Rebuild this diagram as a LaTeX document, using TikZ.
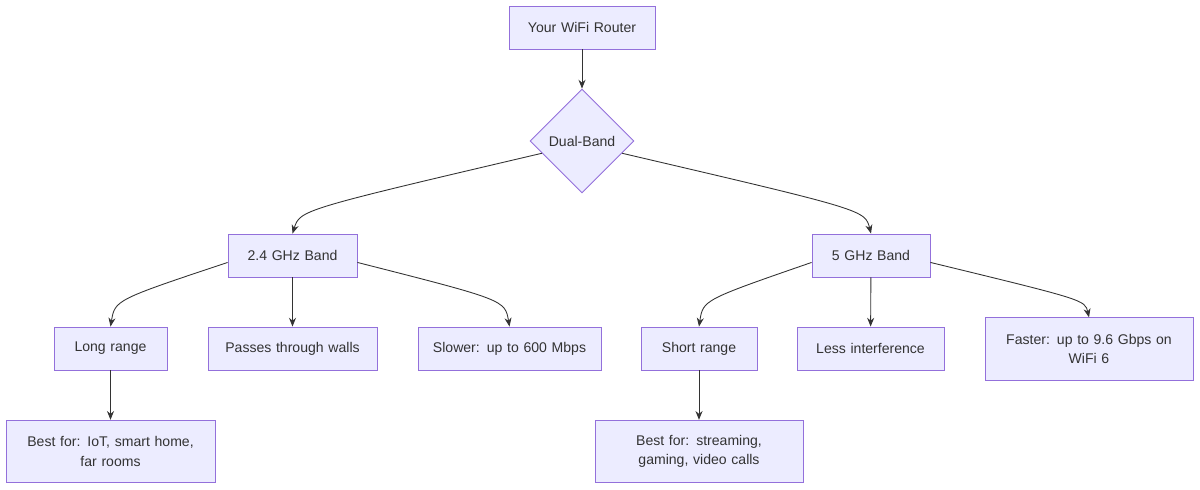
\documentclass[tikz,border=0pt]{standalone}
\usepackage{fontspec}
\setmainfont{Liberation Sans}
\usetikzlibrary{arrows.meta, positioning, shapes.geometric}
\definecolor{mmfill}{HTML}{ECECFF}
\definecolor{mmdraw}{HTML}{9370DB}
\definecolor{mmtext}{HTML}{333333}

\begin{document}
\begin{tikzpicture}[
  x=0.02cm, y=-0.02cm,
  every node/.style={font=\fontsize{8}{11}\selectfont, text=mmtext},
  box/.style={rectangle, draw=mmdraw, fill=mmfill, line width=0.5pt, inner sep=0pt, minimum height=0.86cm, text width=#1, align=center},
  tallbox/.style={box=#1, minimum height=1.25cm},
  choice/.style={diamond, draw=mmdraw, fill=mmfill, line width=0.5pt, inner sep=0pt, minimum width=2.08cm, minimum height=2.08cm},
  link/.style={-{Stealth[length=5pt, width=4pt]}, draw=mmtext, line width=0.5pt},
]
\useasboundingbox (0,0) rectangle (1200,490);

% Nodes
\node[box=2.92cm] (router) at (582,27.5) {Your WiFi Router};
\node[choice] (dual) at (582,141) {Dual-Band};
\node[box=2.58cm] (band24) at (292.5,255.5) {2.4 GHz Band};
\node[box=2.36cm] (band5) at (871,255.5) {5 GHz Band};

\node[box=2.26cm] (long) at (110.5,348.5) {Long range};
\node[box=3.38cm] (walls) at (292.5,348.5) {Passes through walls};
\node[box=3.66cm] (slow) at (509.5,348.5) {Slower: up to 600 Mbps};
\node[box=2.32cm] (short) at (699,348.5) {Short range};
\node[box=2.94cm] (less) at (870.5,348.5) {Less interference};
\node[tallbox=4.16cm] (fast) at (1089,349) {Faster: up to 9.6 Gbps on\\WiFi 6};

\node[tallbox=4.18cm] (iot) at (110.5,451.5) {Best for: IoT, smart home,\\far rooms};
\node[tallbox=4.16cm] (stream) at (699,451.5) {Best for: streaming,\\gaming, video calls};

% Links
\draw[link] (router) -- (dual);
\draw[link] (dual.197) .. controls (300,210) .. (band24.north);
\draw[link] (dual.-17) .. controls (865,210) .. (band5.north);

\draw[link] ([yshift=0.3cm]band24.south west) .. controls (115,300) .. (long.north);
\draw[link] (band24) -- (walls);
\draw[link] ([yshift=0.3cm]band24.south east) .. controls (505,300) .. (slow.north);

\draw[link] ([yshift=0.3cm]band5.south west) .. controls (703,300) .. (short.north);
\draw[link] (band5) -- (less);
\draw[link] ([yshift=0.3cm]band5.south east) .. controls (1085,300) .. (fast.north);

\draw[link] (long) -- (iot);
\draw[link] (short) -- (stream);
\end{tikzpicture}
\end{document}
